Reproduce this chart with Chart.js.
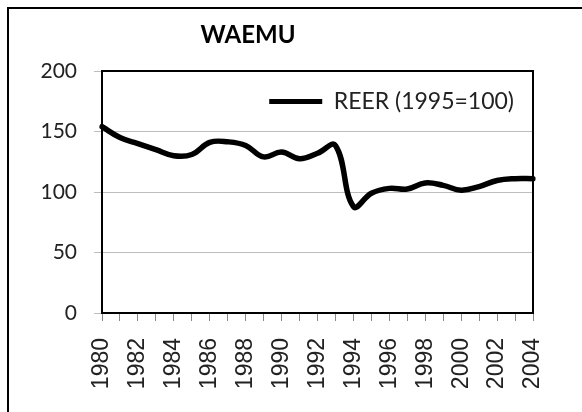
<!DOCTYPE html>
<html><head><meta charset="utf-8">
<script src="https://cdn.jsdelivr.net/npm/chart.js@4/dist/chart.umd.min.js"></script>
<style>html,body{margin:0;padding:0;background:#fff;}canvas{display:block;}</style>
</head><body>
<canvas id="c" width="582" height="412"></canvas>
<script>
const years = ['1980','1981','1982','1983','1984','1985','1986','1987','1988','1989','1990','1991','1992','1993','1994','1995','1996','1997','1998','1999','2000','2001','2002','2003','2004'];
const reer = [154, 145, 140, 135, 130, 131, 141, 141.5, 138.5, 129, 133, 127.5, 132, 138.5, 88, 99, 103, 102.5, 107.5, 105.5, 101.5, 104.5, 109.5, 111, 111];
const seriesName = 'REER (1995=100)';
const chartTitle = 'WAEMU';
const yTicks = [0, 50, 100, 150, 200];

const framePlugin = {
  id: 'frame',
  beforeLayout(chart) {
    const lg = chart.legend;
    if (lg && !lg._zeroFit) {
      const orig = lg.fit;
      lg.fit = function () { orig.call(this); this.height = 0; };
      lg._zeroFit = true;
    }
  },
  afterLayout(chart) {
    if (chart.titleBlock) { chart.titleBlock.left = 0; chart.titleBlock.right = 496; }
    if (chart.legend) {
      const t = chart.chartArea.top;
      chart.legend.top = t;
      chart.legend.bottom = t + 60;
      chart.legend.height = 60;
    }
  },
  beforeDraw(chart) {
    const ctx = chart.ctx;
    ctx.save();
    ctx.strokeStyle = '#000';
    ctx.lineWidth = 2;
    ctx.beginPath();
    ctx.moveTo(8, 412); ctx.lineTo(8, 8); ctx.lineTo(582, 8);
    ctx.stroke();
    ctx.restore();
  },
  afterDraw(chart) {
    const a = chart.chartArea, ctx = chart.ctx;
    ctx.save();
    ctx.strokeStyle = '#000';
    ctx.lineWidth = 2;
    ctx.strokeRect(a.left, a.top, a.right - a.left, a.bottom - a.top);
    ctx.restore();
  }
};

new Chart(document.getElementById('c'), {
  type: 'line',
  data: {
    labels: years,
    datasets: [{
      label: seriesName,
      data: reer,
      borderColor: '#000',
      backgroundColor: '#000',
      borderWidth: 5.5,
      tension: 0.4,
      pointRadius: 0,
      borderCapStyle: 'round',
      borderJoinStyle: 'round'
    }]
  },
  options: {
    responsive: false,
    animation: false,
    layout: { padding: { left: 0, right: 49, top: 0, bottom: 0 } },
    plugins: {
      tooltip: { enabled: false },
      title: {
        display: true,
        text: chartTitle,
        color: '#000',
        font: { family: 'Lato', size: 24, weight: 'bold', lineHeight: 1.2 },
        padding: { top: 20.6, bottom: 21.6 }
      },
      legend: {
        position: 'top',
        align: 'end',
        labels: {
          color: '#222',
          font: { family: 'Lato', size: 23 },
          boxWidth: 53,
          boxHeight: 5,
          padding: 19,
          generateLabels(chart) {
            const items = Chart.defaults.plugins.legend.labels.generateLabels(chart);
            items.forEach(it => { it.lineWidth = 0; it.fillStyle = '#000'; it.strokeStyle = '#000'; });
            return items;
          }
        }
      }
    },
    scales: {
      x: {
        afterFit(scale) { scale.height = 99; },
        grid: { display: true, drawOnChartArea: false, drawTicks: true, tickLength: 8, color: '#8a8a8a' },
        border: { display: true, color: '#000', width: 2 },
        ticks: {
          autoSkip: false,
          maxRotation: 90,
          minRotation: 90,
          padding: 17,
          color: '#222',
          font: { family: 'Liberation Sans', size: 23 },
          callback(val, idx) { return idx % 2 === 0 ? this.getLabelForValue(val) : ''; }
        }
      },
      y: {
        min: 0,
        max: 200,
        afterFit(scale) { scale.width = 102; },
        afterBuildTicks(scale) { scale.ticks = yTicks.map(v => ({ value: v })); },
        grid: { color: '#bdbdbd', lineWidth: 1, tickLength: 8, drawTicks: true },
        border: { display: true, color: '#333', width: 2 },
        ticks: {
          padding: 17,
          color: '#222',
          font: { family: 'Lato', size: 21 }
        }
      }
    }
  },
  plugins: [framePlugin]
});
</script>
</body></html>
